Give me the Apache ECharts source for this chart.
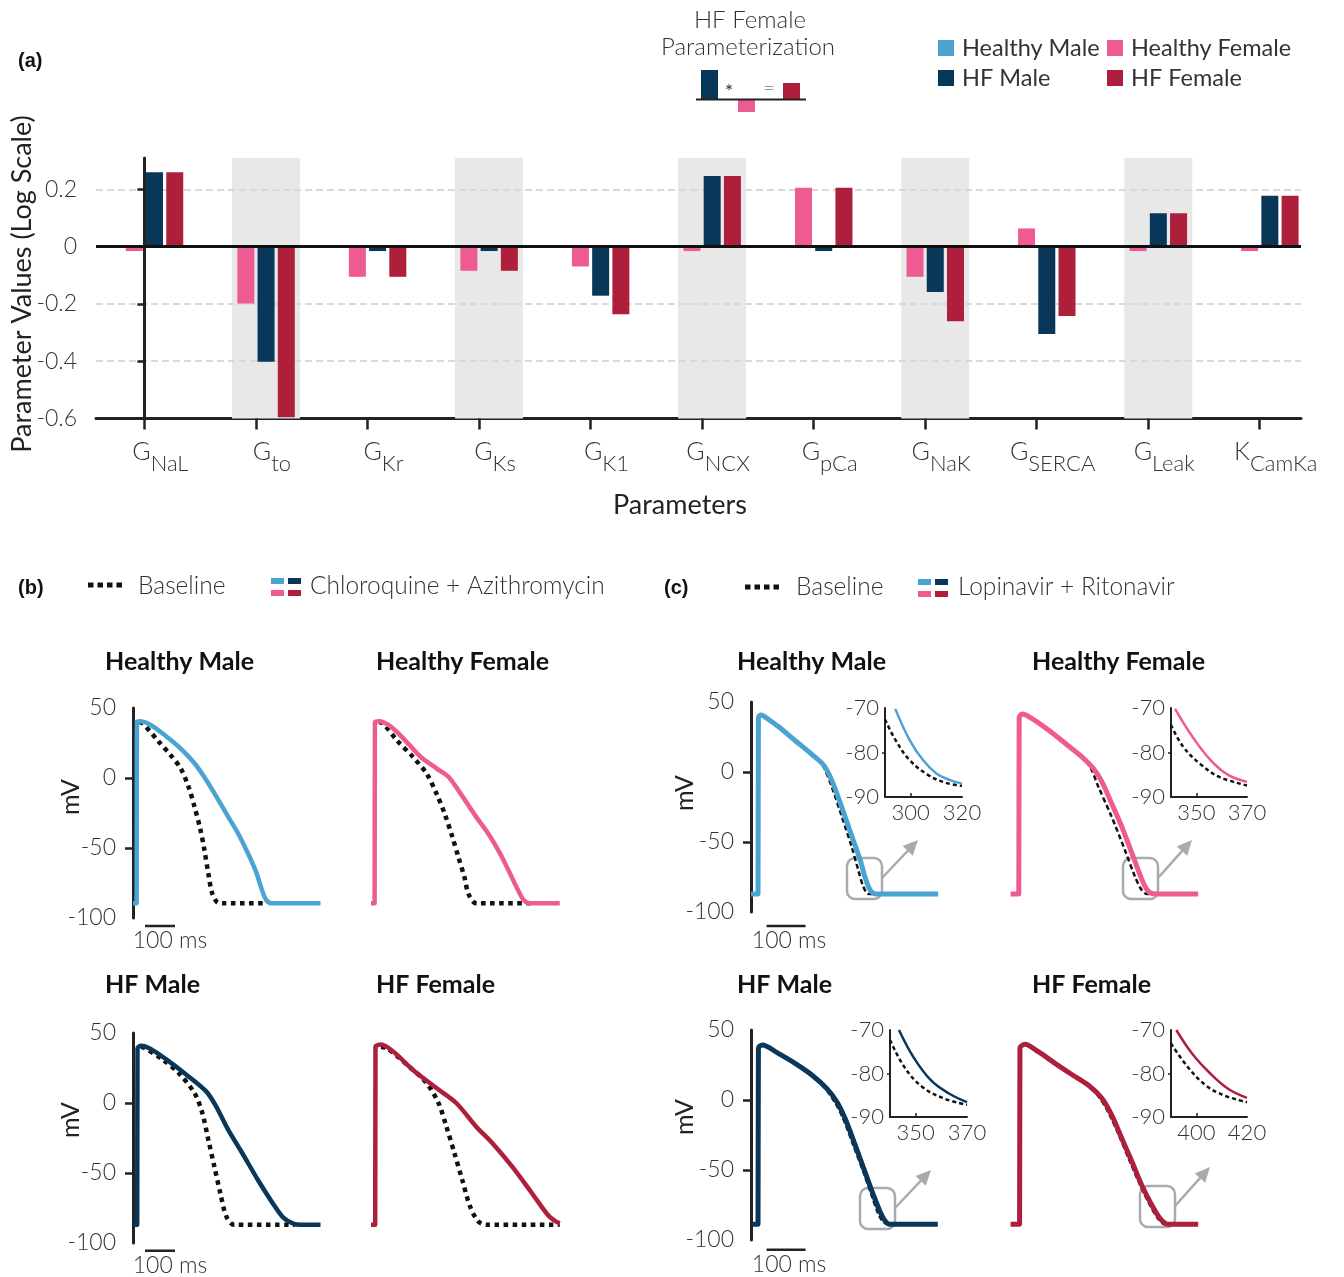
<!DOCTYPE html>
<html>
<head>
<meta charset="utf-8">
<script src="https://cdn.jsdelivr.net/npm/echarts@6.0.0/dist/echarts.min.js"></script>
<style>
html, body { margin: 0; padding: 0; background: #fff; }
#main { width: 1344px; height: 1277px; }
</style>
</head>
<body>
<div id="main"></div>
<script>
// ---- (a) parameter values, log scale ----
var paramLetter = ['G', 'G', 'G', 'G', 'G', 'G', 'G', 'G', 'G', 'G', 'K'];
var paramNames = ['NaL', 'to', 'Kr', 'Ks', 'K1', 'NCX', 'pCa', 'NaK', 'SERCA', 'Leak', 'CamKa'];
var healthyMale = [0, 0, 0, 0, 0, 0, 0, 0, 0, 0, 0];
var healthyFemale = [-0.015, -0.198, -0.105, -0.084, -0.069, -0.015, 0.206, -0.105, 0.064, -0.015, -0.015];
var hfMale = [0.26, -0.402, -0.015, -0.015, -0.171, 0.247, -0.015, -0.158, -0.305, 0.117, 0.178];
var hfFemale = [0.26, -0.596, -0.105, -0.084, -0.236, 0.247, 0.206, -0.26, -0.242, 0.117, 0.178];
var shadedParams = [1, 3, 5, 7, 9];
var barTicks = [-0.6, -0.4, -0.2, 0, 0.2];

// ---- (b) chloroquine + azithromycin, [ms, mV] ----
var cqHealthyMale = [[0,-89.5],[12,-89.5],[13,40],[22,40.5],[59,37.9],[112,29.5],[152,22.4],[205,10.5],[244,-1.4],[278,-13.3],[317,-27.6],[350,-39.5],[383,-53.8],[410,-66.9],[430,-80],[445,-87.5],[465,-89.5],[625,-89.5]];
var cqHealthyMaleBase = [[22,40],[33,39],[86,25.9],[125,16.4],[159,6.9],[185,-6.2],[205,-20.5],[225,-37.1],[238,-51.4],[251,-68.1],[264,-82.4],[282,-89],[300,-89.5],[445,-89.5]];
var cqHealthyFemale = [[0,-89.5],[12,-89.5],[13,40],[27,40.5],[66,36.7],[113,27.1],[165,15.2],[218,6.9],[258,0.9],[298,-11],[350,-27.6],[390,-39.5],[430,-53.8],[463,-68.1],[490,-80],[509,-87.1],[530,-89.5],[629,-89.5]];
var cqHealthyFemaleBase = [[27,40],[40,39],[86,27],[139,15.2],[185,3.3],[218,-11],[245,-25.2],[271,-41.9],[291,-56.2],[311,-70.5],[324,-82.4],[344,-89],[360,-89.5],[530,-89.5]];
var cqHfMale = [[0,-87],[14,-87],[15,39],[27,40.9],[59,38.6],[112,31],[178,20.2],[244,8.3],[277,-2.4],[317,-19],[364,-35.7],[416,-54.8],[469,-72.6],[502,-82.1],[536,-86.4],[560,-87],[625,-87]];
var cqHfMaleBase = [[27,40],[39,39.3],[99,31],[152,21.4],[205,7.1],[231,-7.1],[251,-26.2],[271,-45.2],[291,-64.3],[311,-81],[337,-87],[540,-87]];
var cqHfFemale = [[0,-87],[14,-87],[15,40],[33,41.7],[73,36.9],[139,23.8],[218,10.7],[284,0],[350,-16.7],[404,-28.6],[470,-45.3],[536,-64.3],[589,-79.8],[615,-84.5],[629,-86]];
var cqHfFemaleBase = [[33,40],[53,39.3],[126,26.2],[185,14.3],[225,0],[251,-16.7],[278,-35.7],[304,-54.8],[330,-73.8],[357,-84.5],[384,-87],[629,-87]];

// ---- (c) lopinavir + ritonavir, [ms, mV] ----
var lrHealthyMale = [[0,-87.1],[18,-87.1],[19,39],[26,40.7],[45,37.5],[70,32.5],[113,22.5],[156,12.6],[186,5],[203,-3.4],[220,-15.2],[241,-31.9],[262,-48.6],[280,-62.9],[292,-74.8],[303,-83.1],[314,-86.7],[324,-87.1],[480,-87.1]];
var lrHealthyMaleBase = [[26,40.7],[45,37.5],[70,32.5],[113,22.5],[156,12.6],[180,6.5],[190,1.4],[207,-10.5],[233,-31.9],[258,-53.3],[275,-70],[288,-81.9],[301,-87.1],[320,-87.1]];
var lrHealthyFemale = [[0,-87.1],[21,-87.1],[22,39],[30,41.4],[54,38.3],[97,30],[140,20.5],[182,11],[212,2.6],[234,-6.9],[259,-22.4],[285,-39],[311,-58],[332,-73.6],[345,-81.9],[357,-86.2],[375,-87.1],[481,-87.1]];
var lrHealthyFemaleBase = [[30,41.4],[54,38.3],[97,30],[140,20.5],[182,11],[205,3],[225,-10.5],[259,-31.9],[293,-55.7],[319,-74.8],[336,-84.3],[349,-87.1],[365,-87.1]];
var lrHfMale = [[0,-88.8],[18,-88.8],[19,37],[29,39.3],[70,33.3],[113,26.2],[156,17.9],[194,8.3],[220,-1.2],[241,-13.1],[267,-32.1],[292,-51.2],[314,-67.9],[331,-79.8],[344,-86.4],[356,-88.8],[479,-88.8]];
var lrHfMaleBase = [[29,39.3],[70,33.3],[113,26.2],[156,17.9],[190,8.3],[214,-1.2],[236,-13.1],[262,-32.1],[288,-51.2],[309,-67.9],[326,-81],[339,-87],[352,-88.8],[365,-88.8]];
var lrHfFemale = [[0,-88.8],[23,-88.8],[24,37],[37,39.8],[71,34.5],[114,26.2],[157,18.2],[199,10.7],[234,1.2],[259,-10.7],[285,-27.4],[311,-44],[336,-60.7],[362,-75],[383,-84.5],[404,-88.8],[481,-88.8]];
var lrHfFemaleBase = [[37,39.8],[71,34.5],[114,26.2],[157,18.2],[199,10.7],[229,1.2],[254,-10.7],[281,-27.4],[306,-44],[332,-60.7],[357,-75],[379,-85],[396,-88.8],[410,-88.8]];

// insets of (c)
var lrHealthyMaleZoom = [[294,-70.2],[299.6,-77.2],[304.8,-81.7],[310,-84.7],[315.3,-86.2],[320,-87]];
var lrHealthyMaleZoomBase = [[290,-72.6],[294.4,-77.5],[299.6,-81.7],[306.6,-85],[313.6,-86.8],[320,-87.5]];
var lrHealthyFemaleZoom = [[341.6,-70.2],[348.4,-76.4],[355.6,-81.7],[362.7,-85.1],[370,-86.6]];
var lrHealthyFemaleZoomBase = [[340,-73.8],[344.8,-78.7],[352,-82.8],[359.1,-85.5],[370,-87.4]];
var lrHfMaleZoom = [[343.5,-70],[349.1,-76.2],[356,-81.6],[363,-84.6],[370,-86.6]];
var lrHfMaleZoomBase = [[340,-72.3],[345.6,-78.5],[352.6,-83.1],[361.3,-85.8],[370,-87.2]];
var lrHfFemaleZoom = [[392.1,-70],[398.3,-75.4],[405.5,-80],[412.5,-83.5],[420,-85.6]];
var lrHfFemaleZoomBase = [[390,-73.1],[396.6,-78.5],[403.7,-82.7],[410.8,-85],[420,-86.6]];

var FONT = 'Lato';
var colHM = '#4aa3d3', colHF = '#ee5a92', colHFM = '#08375a', colHFF = '#ae1f3c';
var ink = '#222', txtCol = '#333';

var chart = echarts.init(document.getElementById('main'));

var grids = [], xAxes = [], yAxes = [], series = [];

function addAxes(grid, xa, ya) {
    grids.push(grid);
    xa.gridIndex = grids.length - 1;
    ya.gridIndex = grids.length - 1;
    xAxes.push(xa);
    yAxes.push(ya);
    return {x: xAxes.length - 1, y: yAxes.length - 1};
}

/* (a) bar chart */
var barAx = addAxes({left: 96, top: 158, width: 1205, height: 260.5},
    {
        type: 'value', min: -0.434, max: 10.37,
        axisLine: {onZero: false, lineStyle: {color: ink, width: 3}},
        axisTick: {customValues: paramNames.map(function (n, i) { return i; }), length: 11, lineStyle: {color: ink, width: 2.5}},
        axisLabel: {
            customValues: paramNames.map(function (n, i) { return i; }),
            margin: 21, padding: [0, 0, 0, 32],
            formatter: function (v) {
                var i = Math.round(v);
                return '{g|' + paramLetter[i] + '}{s|' + paramNames[i] + '}';
            },
            rich: {
                g: {fontSize: 25, fontWeight: 300, color: txtCol, fontFamily: FONT, lineHeight: 26, verticalAlign: 'top'},
                s: {fontSize: 22, fontWeight: 300, color: txtCol, fontFamily: FONT, lineHeight: 24, padding: [13, 0, 0, 0], verticalAlign: 'top'}
            }
        },
        splitLine: {show: false}
    },
    {
        type: 'value', min: -0.6, max: 0.31, interval: 0.2, z: 1,
        axisLine: {show: true, lineStyle: {color: ink, width: 3}},
        axisTick: {show: true, customValues: barTicks, length: 7, lineStyle: {color: ink, width: 2.5}},
        axisLabel: {customValues: barTicks, fontSize: 23, fontWeight: 300, color: txtCol, margin: 19,
            formatter: function (v) { return v === 0 ? '0' : String(v); }},
        splitLine: {show: true, showMinLine: false, lineStyle: {color: '#d9d9d9', width: 2, type: [7, 4]}}
    });

// hidden axis for the grey bands, shifted so a band sits over the three visible bars
xAxes.push({gridIndex: 0, type: 'value', min: -0.434 - 0.09, max: 10.37 - 0.09, show: false});
var bandX = xAxes.length - 1;

series.push({
    name: 'bandUp', type: 'bar', xAxisIndex: bandX, yAxisIndex: barAx.y, barWidth: 68, barGap: '-100%',
    data: shadedParams.map(function (i) { return [i, 0.31]; }), itemStyle: {color: '#e8e8e8'}, z: 0, silent: true
});
series.push({
    name: 'bandDown', type: 'bar', xAxisIndex: bandX, yAxisIndex: barAx.y, barWidth: 68, barGap: '-100%',
    data: shadedParams.map(function (i) { return [i, -0.6]; }), itemStyle: {color: '#e8e8e8'}, z: 0, silent: true
});

var barSets = [['Healthy Male', healthyMale, colHM], ['Healthy Female', healthyFemale, colHF],
    ['HF Male', hfMale, colHFM], ['HF Female', hfFemale, colHFF]];
barSets.forEach(function (s) {
    series.push({
        name: s[0], type: 'bar', xAxisIndex: barAx.x, yAxisIndex: barAx.y, barWidth: 17, barGap: '19%',
        data: s[1].map(function (v, i) { return [i, v]; }), itemStyle: {color: s[2]}, z: 2
    });
});
// zero line
series.push({
    name: 'zero', type: 'line', xAxisIndex: barAx.x, yAxisIndex: barAx.y, data: [], z: 10,
    markLine: {silent: true, symbol: 'none', label: {show: false},
        lineStyle: {color: '#111', width: 3, type: 'solid'}, data: [{yAxis: 0}]}
});

/* action potential panels */
function apAxes(left, top, pxPerMs, xMax, withAxis) {
    return addAxes({left: left, top: top, width: pxPerMs * xMax, height: 210},
        {type: 'value', min: 0, max: xMax, show: false},
        {
            type: 'value', min: -100, max: 50, interval: 50, show: withAxis,
            axisLine: {show: true, onZero: false, lineStyle: {color: ink, width: 3}},
            axisTick: {show: true, customValues: [0, -50], length: 8, lineStyle: {color: ink, width: 2.5}},
            axisLabel: {fontSize: 23, fontWeight: 300, color: txtCol, margin: 17},
            splitLine: {show: false}
        });
}

function insetAxes(left, top, width, height, tMin, tMid, tMax) {
    return addAxes({left: left, top: top, width: width, height: height},
        {
            type: 'value', min: tMin, max: tMax,
            axisLine: {onZero: false, lineStyle: {color: ink, width: 2}},
            axisTick: {customValues: [tMid], inside: true, length: 4, lineStyle: {color: ink, width: 1.5}},
            axisLabel: {customValues: [tMid, tMax], fontSize: 22, fontWeight: 300, color: txtCol, margin: 5},
            splitLine: {show: false}
        },
        {
            type: 'value', min: -90, max: -70, interval: 10,
            axisLine: {onZero: false, lineStyle: {color: ink, width: 2}},
            axisTick: {customValues: [-80], length: 3, lineStyle: {color: ink, width: 1.5}},
            axisLabel: {fontSize: 22, fontWeight: 300, color: txtCol, margin: 6},
            splitLine: {show: false}
        });
}

function trace(ax, data, color, width, dash, z, smooth) {
    series.push({
        type: 'line', xAxisIndex: ax.x, yAxisIndex: ax.y, data: data, symbol: 'none', showSymbol: false,
        smooth: smooth, silent: true, z: z,
        lineStyle: {color: color, width: width, type: dash || 'solid', cap: 'butt', join: 'round'}
    });
}

function scaleBar(ax, level) {
    series.push({
        type: 'line', xAxisIndex: ax.x, yAxisIndex: ax.y, data: [[40, level], [140, level]], symbol: 'none',
        silent: true, clip: false, lineStyle: {color: ink, width: 2.5}
    });
}

var dotB = [4.5, 4.5], dashC = [5, 3];

var bHM = apAxes(133, 708, 0.3, 650, true);
var bHF = apAxes(371, 708, 0.3, 650, false);
var bHFM = apAxes(133, 1033, 0.3, 650, true);
var bHFF = apAxes(371, 1033, 0.3, 650, false);

trace(bHM, cqHealthyMaleBase, '#111', 4.5, dotB, 2, 0.3);
trace(bHM, cqHealthyMale, colHM, 4.5, null, 3, 0.3);
trace(bHF, cqHealthyFemaleBase, '#111', 4.5, dotB, 2, 0.3);
trace(bHF, cqHealthyFemale, colHF, 4.5, null, 3, 0.3);
trace(bHFM, cqHfMaleBase, '#111', 4.5, dotB, 2, 0.3);
trace(bHFM, cqHfMale, colHFM, 4.5, null, 3, 0.3);
trace(bHFF, cqHfFemaleBase, '#111', 4.5, dotB, 2, 0.3);
trace(bHFF, cqHfFemale, colHFF, 4.5, null, 3, 0.3);
scaleBar(bHM, -105.7);
scaleBar(bHFM, -105.5);

var cHM = apAxes(751, 702, 0.39, 500, true);
var cHF = apAxes(1010.6, 702, 0.39, 500, false);
var cHFM = apAxes(751, 1030, 0.39, 500, true);
var cHFF = apAxes(1010.6, 1030, 0.39, 500, false);

trace(cHM, lrHealthyMaleBase, '#111', 2.5, dashC, 2, 0.3);
trace(cHM, lrHealthyMale, colHM, 5, null, 3, 0.3);
trace(cHF, lrHealthyFemaleBase, '#111', 2.5, dashC, 2, 0.3);
trace(cHF, lrHealthyFemale, colHF, 5, null, 3, 0.3);
trace(cHFM, lrHfMaleBase, '#111', 2.5, dashC, 2, 0.3);
trace(cHFM, lrHfMale, colHFM, 5, null, 3, 0.3);
trace(cHFF, lrHfFemaleBase, '#111', 2.5, dashC, 2, 0.3);
trace(cHFF, lrHfFemale, colHFF, 5, null, 3, 0.3);
scaleBar(cHM, -110);
scaleBar(cHFM, -107);

var iHM = insetAxes(885, 708, 77, 89, 290, 300, 320);
var iHF = insetAxes(1171, 708, 76, 89, 340, 350, 370);
var iHFM = insetAxes(890, 1030, 77, 87, 340, 350, 370);
var iHFF = insetAxes(1171, 1030, 76, 87, 390, 400, 420);

trace(iHM, lrHealthyMaleZoomBase, '#111', 2.5, [4, 3], 2, 0.4);
trace(iHM, lrHealthyMaleZoom, colHM, 2.5, null, 3, 0.4);
trace(iHF, lrHealthyFemaleZoomBase, '#111', 2.5, [4, 3], 2, 0.4);
trace(iHF, lrHealthyFemaleZoom, colHF, 2.5, null, 3, 0.4);
trace(iHFM, lrHfMaleZoomBase, '#111', 2.5, [4, 3], 2, 0.4);
trace(iHFM, lrHfMaleZoom, colHFM, 2.5, null, 3, 0.4);
trace(iHFF, lrHfFemaleZoomBase, '#111', 2.5, [4, 3], 2, 0.4);
trace(iHFF, lrHfFemaleZoom, colHFF, 2.5, null, 3, 0.4);

var legendText = {fontSize: 23.5, fontWeight: 'normal', color: txtCol, fontFamily: FONT, lineHeight: 24, padding: [0, 0, 0, 3]};

var option = {
    animation: false,
    backgroundColor: '#fff',
    textStyle: {fontFamily: FONT},
    grid: grids,
    xAxis: xAxes,
    yAxis: yAxes,
    legend: [
        {data: ['Healthy Male', 'HF Male'], orient: 'vertical', left: 938, top: 36, padding: 0, itemGap: 6,
            itemWidth: 16, itemHeight: 16, icon: 'rect', selectedMode: false, textStyle: legendText},
        {data: ['Healthy Female', 'HF Female'], orient: 'vertical', left: 1107, top: 36, padding: 0, itemGap: 6,
            itemWidth: 16, itemHeight: 16, icon: 'rect', selectedMode: false, textStyle: legendText}
    ],
    series: series
};
chart.setOption(option);

/* annotations */
var gfx = [];

function text(x, y, s, size, opt) {
    opt = opt || {};
    gfx.push({
        type: 'text', x: x, y: y, rotation: opt.rot || 0, silent: true,
        style: {
            text: s, fontSize: size, fontFamily: opt.family || FONT, fontWeight: opt.weight || 300,
            fill: opt.color || txtCol, align: opt.align || 'left', verticalAlign: 'middle',
            textAlign: opt.align || 'left', textVerticalAlign: 'middle'
        }
    });
}
function rect(x, y, w, h, fill) {
    gfx.push({type: 'rect', silent: true, shape: {x: x, y: y, width: w, height: h}, style: {fill: fill}});
}
function line(x1, y1, x2, y2, stroke, w, dash) {
    gfx.push({type: 'line', silent: true, shape: {x1: x1, y1: y1, x2: x2, y2: y2},
        style: {stroke: stroke, lineWidth: w, lineDash: dash || null}});
}

// panel labels
text(18, 61, '(a)', 20, {family: 'Liberation Sans', weight: 'bold', color: '#111'});
text(18, 588, '(b)', 20, {family: 'Liberation Sans', weight: 'bold', color: '#111'});
text(664, 588, '(c)', 20, {family: 'Liberation Sans', weight: 'bold', color: '#111'});

// (a) axis titles
text(22, 284, 'Parameter Values (Log Scale)', 27, {rot: Math.PI / 2, align: 'center', color: ink, weight: 'normal'});
text(680, 505, 'Parameters', 27, {align: 'center', color: ink, weight: 'normal'});

// HF female parameterization sketch
text(750, 20, 'HF Female', 24, {align: 'center'});
text(748, 47, 'Parameterization', 24, {align: 'center'});
rect(701, 70, 17, 29, colHFM);
rect(738, 100, 17, 12, colHF);
rect(783, 83, 17, 16, colHFF);
line(696, 99.5, 806, 99.5, ink, 2);
text(729, 92, '*', 20, {align: 'center', weight: 'normal'});
text(769, 89, '=', 20, {align: 'center'});

// (b) and (c) legends
line(88, 585, 122, 585, '#111', 5, [5.5, 4]);
text(138, 586, 'Baseline', 24.5);
rect(271, 578, 13, 6, colHM); rect(288, 578, 13, 6, colHFM);
rect(271, 590, 13, 6, colHF); rect(288, 590, 13, 6, colHFF);
text(310, 586, 'Chloroquine + Azithromycin', 24.5);

line(745, 587, 780, 587, '#111', 5, [5.5, 4]);
text(796, 587, 'Baseline', 24.5);
rect(918, 579, 13, 6, colHM); rect(935, 579, 13, 6, colHFM);
rect(918, 591, 13, 6, colHF); rect(935, 591, 13, 6, colHFF);
text(958, 587, 'Lopinavir + Ritonavir', 24.5);

// subplot titles
var tOpt = {weight: 'bold', color: '#111'};
text(105, 662, 'Healthy Male', 25, tOpt);
text(376, 662, 'Healthy Female', 25, tOpt);
text(105, 985, 'HF Male', 25, tOpt);
text(376, 985, 'HF Female', 25, tOpt);
text(737, 662, 'Healthy Male', 25, tOpt);
text(1032, 662, 'Healthy Female', 25, tOpt);
text(737, 985, 'HF Male', 25, tOpt);
text(1032, 985, 'HF Female', 25, tOpt);

// mV labels
text(71, 797, 'mV', 25, {rot: Math.PI / 2, align: 'center', color: ink, weight: 'normal'});
text(71, 1120, 'mV', 25, {rot: Math.PI / 2, align: 'center', color: ink, weight: 'normal'});
text(685, 793, 'mV', 25, {rot: Math.PI / 2, align: 'center', color: ink, weight: 'normal'});
text(685, 1117, 'mV', 25, {rot: Math.PI / 2, align: 'center', color: ink, weight: 'normal'});

// scale bar labels
[[bHM, -105.7, 10], [bHFM, -105.5, 10], [cHM, -110, 3], [cHFM, -107, 3]].forEach(function (s) {
    var p = chart.convertToPixel({xAxisIndex: s[0].x, yAxisIndex: s[0].y}, [90, s[1]]);
    text(p[0] + s[2], p[1] + 15, '100 ms', 23, {align: 'center'});
});

// zoom boxes with arrows
[[847, 858, 918, 840], [1123, 858, 1192, 840], [860, 1188, 931, 1170], [1140, 1186, 1210, 1167]].forEach(function (b) {
    gfx.push({type: 'rect', silent: true, shape: {x: b[0], y: b[1], width: 35, height: 41, r: 8},
        style: {fill: 'none', stroke: '#aaa', lineWidth: 2.5}});
    var x0 = b[0] + 35, y0 = b[1] + 20;
    var dx = b[2] - x0, dy = b[3] - y0, len = Math.sqrt(dx * dx + dy * dy);
    var ux = dx / len, uy = dy / len;
    line(x0, y0, b[2] - ux * 10, b[3] - uy * 10, '#aaa', 2.5);
    var bx = b[2] - ux * 15, by = b[3] - uy * 15;
    gfx.push({type: 'polygon', silent: true,
        shape: {points: [[b[2], b[3]], [bx - uy * 7, by + ux * 7], [bx + uy * 7, by - ux * 7]]},
        style: {fill: '#aaa'}});
});

chart.setOption({graphic: gfx});
</script>
</body>
</html>
